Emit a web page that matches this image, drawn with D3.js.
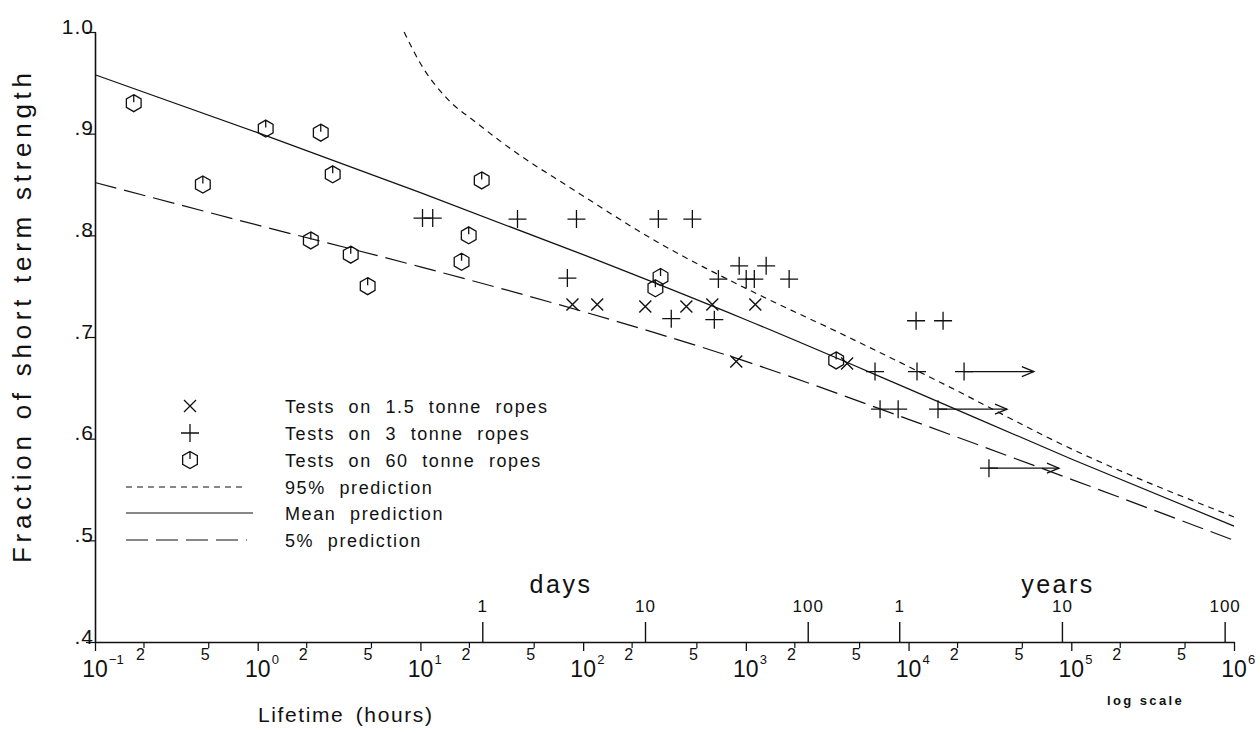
<!DOCTYPE html>
<html><head><meta charset="utf-8">
<script src="https://cdn.jsdelivr.net/npm/d3@7"></script>
<style>
body{margin:0;background:#fff}
svg{display:block}
text{font-family:"Liberation Sans",Arial,sans-serif;fill:#111}
</style>
</head><body>
<svg id="c" width="1260" height="733"></svg>
<script>
// ---------- data ----------
const crossHours = [86, 122, 241, 431, 622, 1143, 873, 4190];
const crossFrac  = [0.732, 0.732, 0.730, 0.730, 0.732, 0.732, 0.676, 0.674];

const plusHours = [10.3, 11.9, 39.5, 91, 290, 469, 80, 910, 1333, 678, 1005, 1127, 1845, 348, 640,
                   11120, 16290, 6220, 11270, 21930, 6680, 8630, 15170, 31190];
const plusFrac  = [0.817, 0.817, 0.816, 0.816, 0.816, 0.816, 0.758, 0.770, 0.770, 0.757, 0.757, 0.757, 0.757, 0.718, 0.717,
                   0.716, 0.716, 0.666, 0.666, 0.666, 0.629, 0.629, 0.629, 0.571];

const hexHours = [0.173, 0.46, 1.12, 2.44, 2.89, 2.12, 3.73, 4.74, 23.8, 19.8, 17.9, 299, 278, 3590];
const hexFrac  = [0.930, 0.850, 0.905, 0.901, 0.860, 0.795, 0.781, 0.750, 0.854, 0.800, 0.774, 0.759, 0.748, 0.677];

// still running (censored) tests
const arrowStartHours = [21930, 15170, 31190];
const arrowEndHours   = [58880, 40270, 83950];
const arrowFrac       = [0.666, 0.629, 0.571];

const meanHours = [0.1, 1, 10, 100, 1e3, 1e4, 1e5, 1e6];
const meanFrac  = [0.958, 0.901, 0.842, 0.781, 0.717, 0.649, 0.580, 0.514];

const upperHours = [7.94, 10, 14.1, 22.4, 39.8, 79.4, 282, 1259, 3548, 15850, 1e5, 1e6];
const upperFrac  = [1.0, 0.969, 0.937, 0.910, 0.880, 0.849, 0.794, 0.740, 0.706, 0.655, 0.590, 0.523];

const lowerHours = [0.1, 1, 10, 100, 1e3, 1e4, 1e5, 1e6];
const lowerFrac  = [0.852, 0.810, 0.769, 0.725, 0.676, 0.619, 0.560, 0.500];

const yTicks      = [0.4, 0.5, 0.6, 0.7, 0.8, 0.9, 1.0];
const yTickLabels = [".4", ".5", ".6", ".7", ".8", ".9", "1.0"];
const xMajor      = [1e-1, 1e0, 1e1, 1e2, 1e3, 1e4, 1e5, 1e6];
const xMajorExp   = ["\u22121", "0", "1", "2", "3", "4", "5", "6"];
const xMinorMult  = [2, 5];
const timeTickHours  = [24, 240, 2400, 8760, 87600, 876000];
const timeTickLabels = ["1", "10", "100", "1", "10", "100"];

const legendLabels = ["Tests on 1.5 tonne ropes", "Tests on 3 tonne ropes", "Tests on 60 tonne ropes",
                      "95% prediction", "Mean prediction", "5% prediction"];

// ---------- drawing ----------
const svg = d3.select("#c");
const ink = "#111";
const FONT = '"Liberation Sans",Arial,sans-serif';
const x = d3.scaleLog().domain([0.1, 1e6]).range([95, 1234]);
const y = d3.scaleLinear().domain([0.4, 1.0]).range([642, 32]);

// Y axis
const gy = svg.append("g").attr("transform", "translate(95,0)")
  .call(d3.axisLeft(y).tickValues(yTicks).tickSize(9).tickSizeOuter(0)
        .tickFormat((d, i) => yTickLabels[i]));
gy.select(".domain").attr("stroke", ink).attr("stroke-width", 1.6);
gy.selectAll(".tick line").attr("stroke", ink).attr("x1", 1).attr("stroke-width", 1.2);
gy.selectAll(".tick text").attr("x", -1).attr("dy", "0.05em").attr("fill", ink)
  .style("font-size", "21px").style("letter-spacing", "1px").style("font-family", FONT);

// X axis (hours), major ticks
const gx = svg.append("g").attr("transform", "translate(0,642)")
  .call(d3.axisBottom(x).tickValues(xMajor).tickSize(9).tickSizeOuter(0).tickFormat(""));
gx.select(".domain").attr("stroke", ink).attr("stroke-width", 1.6);
gx.selectAll(".tick line").attr("stroke", ink).attr("stroke-width", 1.3);

// minor ticks 2,5
const minorVals = [];
xMajor.slice(0, -1).forEach(m => xMinorMult.forEach(k => minorVals.push({v: m * k, k})));
const gm = svg.append("g");
gm.selectAll("line").data(minorVals).join("line")
  .attr("x1", d => x(d.v)).attr("x2", d => x(d.v)).attr("y1", 642).attr("y2", 648)
  .attr("stroke", ink).attr("stroke-width", 1.2);
gm.selectAll("text").data(minorVals).join("text")
  .attr("x", d => x(d.v) + 1).attr("y", 660).attr("text-anchor", "end")
  .style("font-size", "16px").text(d => d.k);

// major labels 10^n
const gl = svg.append("g");
gl.selectAll("text.b").data(xMajor).join("text").attr("class", "b")
  .attr("x", d => x(d)).attr("y", 677).attr("text-anchor", "middle")
  .style("font-size", "23px").text("10");
gl.selectAll("text.e").data(xMajor).join("text").attr("class", "e")
  .attr("x", d => x(d) + 14).attr("y", 664).attr("text-anchor", "start")
  .style("font-size", "13px").text((d, i) => xMajorExp[i]);

// days / years axis (upward ticks)
const gt = svg.append("g").attr("transform", "translate(0,642)")
  .call(d3.axisTop(x).tickValues(timeTickHours).tickSize(20).tickSizeOuter(0).tickPadding(10)
        .tickFormat((d, i) => timeTickLabels[i]));
gt.select(".domain").remove();
gt.selectAll(".tick line").attr("stroke", ink).attr("stroke-width", 1.4);
gt.selectAll(".tick text").attr("fill", ink).style("font-size", "17px").style("letter-spacing", "1px")
  .style("font-family", FONT);

svg.append("text").attr("x", 561).attr("y", 593).attr("text-anchor", "middle")
  .style("font-size", "25px").style("letter-spacing", "2.5px").text("days");
svg.append("text").attr("x", 1058).attr("y", 593).attr("text-anchor", "middle")
  .style("font-size", "25px").style("letter-spacing", "2.5px").text("years");
svg.append("text").attr("x", 1107).attr("y", 705).attr("text-anchor", "start")
  .style("font-size", "13px").style("font-weight", "bold").style("letter-spacing", "2.4px").text("log scale");

// axis titles
svg.append("text").attr("x", 258).attr("y", 722).attr("text-anchor", "start")
  .style("font-size", "21px").style("letter-spacing", "1.6px").style("word-spacing", "4px")
  .text("Lifetime (hours)");
svg.append("text").attr("transform", "translate(31,318) rotate(-90)").attr("text-anchor", "middle")
  .style("font-size", "26px").attr("textLength", 490).attr("lengthAdjust", "spacing")
  .text("Fraction of short term strength");

// prediction curves
const line = d3.line().x(d => x(d[0])).y(d => y(d[1])).curve(d3.curveMonotoneX);
const curves = [
  {h: upperHours, f: upperFrac, dash: "6,5"},
  {h: meanHours,  f: meanFrac,  dash: null},
  {h: lowerHours, f: lowerFrac, dash: "22,8"}
];
curves.forEach(c => {
  svg.append("path").datum(c.h.map((h, i) => [h, c.f[i]]))
    .attr("d", line).attr("fill", "none").attr("stroke", ink).attr("stroke-width", 1.2)
    .attr("stroke-dasharray", c.dash);
});

// marker shapes
const hexR = 8.5;
const hexPath = d3.range(6).map(i => {
  const a = (-90 + 60 * i) * Math.PI / 180;
  return (i ? "L" : "M") + (hexR * Math.cos(a)).toFixed(2) + "," + (hexR * Math.sin(a)).toFixed(2);
}).join("") + "Z M0,-8.5 V-1";
const plusPath = "M-9,0H9M0,-9V9";
const crossPath = "M-6,-6L6,6M-6,6L6,-6";

function drawMarkers(hours, fracs, path, w) {
  svg.append("g").selectAll("path").data(hours.map((h, i) => [h, fracs[i]])).join("path")
    .attr("transform", d => `translate(${x(d[0])},${y(d[1])})`)
    .attr("d", path).attr("fill", "none").attr("stroke", ink).attr("stroke-width", w);
}
drawMarkers(hexHours, hexFrac, hexPath, 1.3);
drawMarkers(plusHours, plusFrac, plusPath, 1.3);
drawMarkers(crossHours, crossFrac, crossPath, 1.4);

// arrows for unbroken specimens
const ga = svg.append("g");
arrowStartHours.forEach((h, i) => {
  const x0 = x(h), x1 = x(arrowEndHours[i]), yy = y(arrowFrac[i]);
  ga.append("line").attr("x1", x0).attr("x2", x1).attr("y1", yy).attr("y2", yy)
    .attr("stroke", ink).attr("stroke-width", 1.2);
  ga.append("path").attr("d", `M${x1 - 12},${yy - 5}L${x1},${yy}L${x1 - 12},${yy + 5}`)
    .attr("fill", "none").attr("stroke", ink).attr("stroke-width", 1.3);
});

// legend
const lgY = [406, 433, 460, 487, 513, 540];
const lg = svg.append("g");
[crossPath, plusPath, hexPath].forEach((p, i) => {
  lg.append("path").attr("transform", `translate(190,${lgY[i]})`).attr("d", p)
    .attr("fill", "none").attr("stroke", ink).attr("stroke-width", 1.3);
});
[["6,5", 247], [null, 253], ["22,8", 247]].forEach((s, j) => {
  lg.append("line").attr("x1", 126).attr("x2", s[1]).attr("y1", lgY[3 + j]).attr("y2", lgY[3 + j])
    .attr("stroke", ink).attr("stroke-width", 1.2).attr("stroke-dasharray", s[0]);
});
lg.selectAll("text").data(legendLabels).join("text")
  .attr("x", 285).attr("y", (d, i) => lgY[i] + 7)
  .style("font-size", "18px").style("letter-spacing", "1.6px").style("word-spacing", "7px")
  .text(d => d);
</script>
</body></html>
